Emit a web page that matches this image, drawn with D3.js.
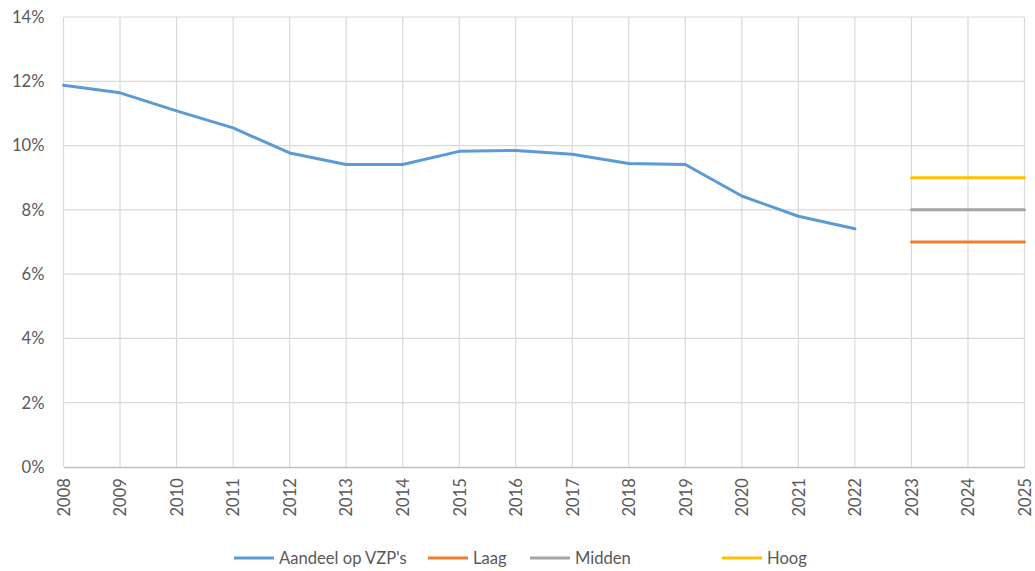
<!DOCTYPE html>
<html>
<head>
<meta charset="utf-8">
<script src="https://cdn.jsdelivr.net/npm/d3@7"></script>
<style>
  html, body { margin: 0; padding: 0; background: #fff; }
  svg { display: block; font-family: Lato, "Open Sans", sans-serif; }
</style>
</head>
<body>
<svg id="chart" width="1035" height="571"></svg>
<script>
// Share of VZP's per year, with three scenarios for the coming years
const years = d3.range(2008, 2026);
const histYears = d3.range(2008, 2023);
const aandeel = [11.88, 11.64, 11.08, 10.55, 9.77, 9.41, 9.41, 9.82, 9.85, 9.73, 9.44, 9.41, 8.43, 7.80, 7.41];
const scenYears = [2023, 2024, 2025];
const laag = [7, 7, 7];
const midden = [8, 8, 8];
const hoog = [9, 9, 9];
const yTicks = [0, 2, 4, 6, 8, 10, 12, 14];
const seriesNames = ["Aandeel op VZP's", "Laag", "Midden", "Hoog"];
const seriesColors = ["#5b9bd5", "#ed7d31", "#a5a5a5", "#ffc000"];

const svg = d3.select("#chart");
const margin = { left: 63.5, right: 10.5, top: 17, bottom: 104 };
const W = 1035, H = 571;
const textColor = "#595959";
const fontSize = "16.6px";

const x = d3.scaleLinear().domain([2008, 2025]).range([margin.left, W - margin.right]);
const y = d3.scaleLinear().domain([0, 14]).range([H - margin.bottom, margin.top]);

// gridlines
const grid = svg.append("g");
grid.selectAll("line.h").data(yTicks.slice(1)).join("line")
  .attr("x1", x(2008)).attr("x2", x(2025))
  .attr("y1", d => y(d)).attr("y2", d => y(d))
  .attr("stroke", "#d9d9d9").attr("stroke-width", 1.2);
grid.selectAll("line.v").data(years).join("line")
  .attr("x1", d => x(d)).attr("x2", d => x(d))
  .attr("y1", y(0)).attr("y2", y(14))
  .attr("stroke", "#d9d9d9").attr("stroke-width", 1.2);

// y axis labels
const yAxis = svg.append("g").attr("transform", `translate(${x(2008)},0)`)
  .call(d3.axisLeft(y).tickValues(yTicks).tickFormat(d => d + "%").tickSize(0).tickPadding(19));
yAxis.select(".domain").remove();
yAxis.selectAll("text").attr("fill", textColor).style("font-size", fontSize)
  .style("font-family", "Lato, 'Open Sans', sans-serif");

// x axis
const xAxis = svg.append("g").attr("transform", `translate(0,${y(0)})`)
  .call(d3.axisBottom(x).tickValues(years).tickFormat(d3.format("d")).tickSize(0));
xAxis.select(".domain").attr("stroke", "#bfbfbf").attr("stroke-width", 1.3);
xAxis.selectAll("text")
  .attr("transform", "rotate(-90)")
  .attr("x", -11).attr("y", 0).attr("dy", "0.35em")
  .style("text-anchor", "end")
  .attr("fill", textColor).style("font-size", fontSize)
  .style("font-family", "Lato, 'Open Sans', sans-serif");

// lines
const line = d3.line().x(d => x(d[0])).y(d => y(d[1]));
const series = [
  { data: d3.zip(histYears, aandeel), color: seriesColors[0] },
  { data: d3.zip(scenYears, laag), color: seriesColors[1] },
  { data: d3.zip(scenYears, midden), color: seriesColors[2] },
  { data: d3.zip(scenYears, hoog), color: seriesColors[3] }
];
svg.append("g").selectAll("path").data(series).join("path")
  .attr("d", d => line(d.data))
  .attr("fill", "none")
  .attr("stroke", d => d.color)
  .attr("stroke-width", 3)
  .attr("stroke-linejoin", "round")
  .attr("stroke-linecap", "round");

// legend
const legendX = [234, 428, 530, 722];
const legendY = 558;
const lg = svg.append("g").selectAll("g").data(seriesNames).join("g")
  .attr("transform", (d, i) => `translate(${legendX[i]},${legendY})`);
lg.append("line").attr("x1", 0).attr("x2", 40).attr("y1", 0).attr("y2", 0)
  .attr("stroke", (d, i) => seriesColors[i]).attr("stroke-width", 3);
lg.append("text").attr("x", 45).attr("y", 0).attr("dy", "0.35em")
  .attr("fill", textColor).style("font-size", fontSize).text(d => d);
</script>
</body>
</html>
